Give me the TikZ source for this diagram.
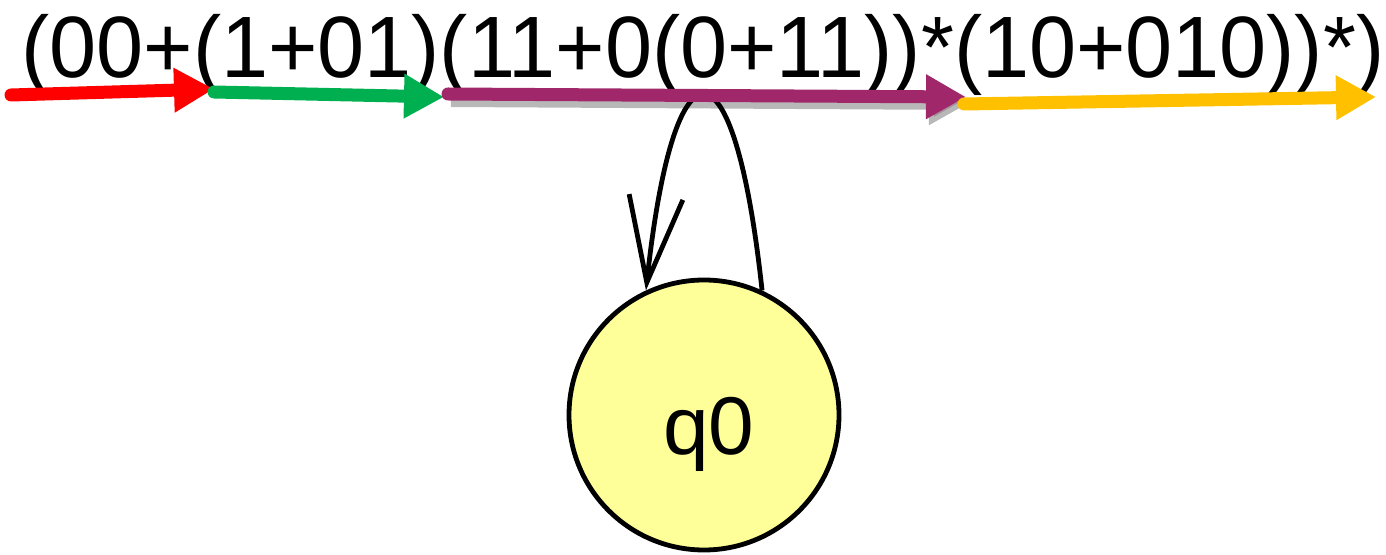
\documentclass[tikz,border=0pt]{standalone}
\usepackage{fontspec}
\setmainfont{Liberation Sans}
\usetikzlibrary{arrows.meta}
\definecolor{seqred}{RGB}{255,0,0}
\definecolor{seqgreen}{RGB}{0,176,80}
\definecolor{seqplum}{RGB}{160,40,106}
\definecolor{seqgold}{RGB}{255,192,0}
\definecolor{statefill}{RGB}{255,255,153}
\tikzset{
  seqarrow/.style={line width=6.5pt,line cap=round,draw=#1,
    -{Triangle[length=20pt,width=21pt,fill=#1]}},
  shadowed/.style={preaction={draw=black,opacity=0.28,line width=7pt,
    transform canvas={shift={(1.5pt,-3pt)}}}},
  state/.style={circle,draw,line width=2.4pt,fill=statefill,minimum size=135pt,inner sep=0pt},
  loopline/.style={line width=2.4pt,-{Straight Barb[length=43pt,width=27pt]}}
}
\begin{document}
\begin{tikzpicture}[x=0.5pt,y=-0.5pt]
  \useasboundingbox (0,0) rectangle (1386,555);
  \node[anchor=base west,inner sep=0pt,yscale=1.03,font=\fontsize{42.3}{46}\selectfont] (expr)
    at (21,78) {(00+(1+01)(11+0(0+11))*(10+010))*)};

  \node[state,label={[font=\fontsize{41}{44}\selectfont,text depth=0pt,
    xshift=2.5pt,yshift=-5.5pt]center:q0}] (q0) at (704,415) {};
  \draw[loopline] (q0.65) .. controls +(-28,-260) and +(28,-260) .. (q0.115);

  \coordinate (r0) at (11,95);
  \coordinate (r1) at (214,89);
  \coordinate (g0) at (214,92);
  \coordinate (g1) at (444,97);
  \coordinate (p0) at (448,94);
  \coordinate (p1) at (966,97);
  \coordinate (y0) at (964,104);
  \coordinate (y1) at (1376,97);

  \draw[seqarrow=seqred] (r0) -- (r1);
  \draw[seqarrow=seqgreen] (g0) -- (g1);
  \draw[seqarrow=seqplum,shadowed] (p0) -- (p1);
  \draw[seqarrow=seqgold] (y0) -- (y1);
\end{tikzpicture}
\end{document}
